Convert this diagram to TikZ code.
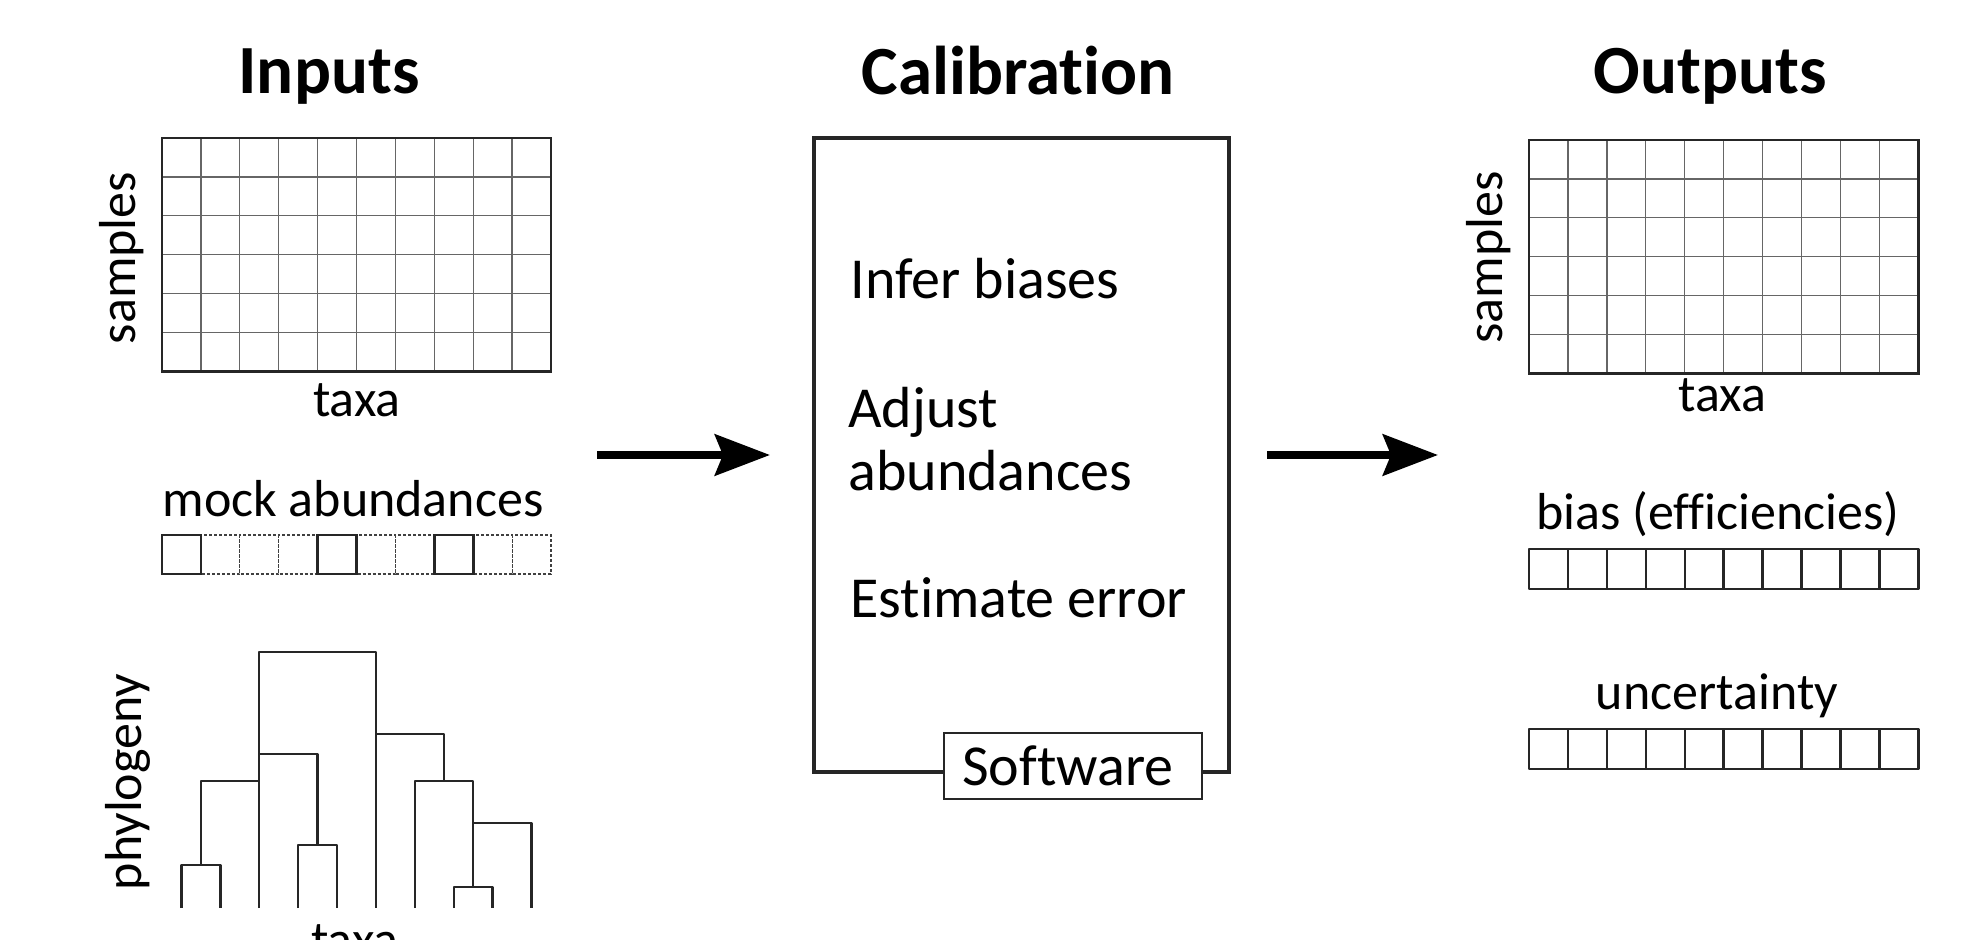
\documentclass[tikz,border=0pt]{standalone}
\usepackage{fontspec}
\setmainfont{Carlito}[Ligatures=NoCommon]
\usetikzlibrary{arrows.meta}
\begin{document}
\begin{tikzpicture}[x=0.5pt,y=-0.5pt,
  title/.style={font=\fontsize{34.5}{40}\selectfont\bfseries, inner sep=0pt, anchor=base},
  lab/.style={font=\fontsize{26}{30}\selectfont, inner sep=0pt, anchor=base},
  body/.style={font=\fontsize{29}{34}\selectfont, inner sep=0pt, anchor=base west},
  outer/.style={line width=1.35pt, draw=black!85},
  inner/.style={line width=0.65pt, draw=black!60},
  cell/.style={line width=1.2pt, draw=black!85, line join=round},
  mockon/.style={line width=1.3pt, draw=black!85},
  mockoff/.style={line width=0.6pt, draw=black!75, dash pattern=on 1.5pt off 1pt},
  branch/.style={line width=1.2pt, draw=black!85, line join=round},
  mainbox/.style={line width=1.7pt, draw=black!85},
  flow/.style={line width=4pt, -{Stealth[length=27.5pt, width=20.5pt, inset=4pt]}}
]
\useasboundingbox (0,0) rectangle (1982,940);

% ---------- column titles ----------
\node[title] (tin)  at (329,93.3) {Inputs};
\node[title] (tcal) at (1018,95) {Calibration};
\node[title] (tout) at (1710,93.5) {Outputs};

% ---------- inputs: sample x taxa table ----------
\foreach \i in {1,...,9}
  \draw[inner] ({162+38.9*\i},138) -- ({162+38.9*\i},371.5);
\foreach \j in {1,...,5}
  \draw[inner] (162,{138+38.92*\j}) -- (551,{138+38.92*\j});
\draw[outer] (162,138) rectangle (551,371.5);
\node[lab, rotate=90] (insamp) at (135,258) {samples};
\node[lab] (intaxa) at (357,416.5) {taxa};

% ---------- inputs: mock abundances ----------
\node[lab] (mocklab) at (353,517) {mock abundances};
\foreach \i in {1,2,3,5,6,8,9}
  \draw[mockoff] ({162+38.9*\i},535) rectangle ({162+38.9*(\i+1)},574);
\foreach \i in {0,4,7}
  \draw[mockon] ({162+38.9*\i},535) rectangle ({162+38.9*(\i+1)},574);

% ---------- inputs: phylogeny ----------
\draw[branch] (181.45,908) -- (181.45,865) -- (220.35,865) -- (220.35,908);
\draw[branch] (200.9,865) -- (200.9,781) -- (259.25,781);
\draw[branch] (259.25,908) -- (259.25,652.3) -- (375.95,652.3) -- (375.95,908);
\draw[branch] (259.25,754) -- (317.6,754) -- (317.6,845);
\draw[branch] (298.15,908) -- (298.15,845) -- (337.05,845) -- (337.05,908);
\draw[branch] (375.95,734) -- (444,734) -- (444,781);
\draw[branch] (414.85,908) -- (414.85,781) -- (473.2,781) -- (473.2,886.7);
\draw[branch] (453.75,908) -- (453.75,886.7) -- (492.65,886.7) -- (492.65,908);
\draw[branch] (473.2,822.7) -- (531.55,822.7) -- (531.55,908);
\node[lab, rotate=90] (phylab) at (141,782) {phylogeny};
\node[lab] (phytaxa) at (355,957) {taxa};

% ---------- calibration ----------
\draw[mainbox] (814,138) rectangle (1229,771.8);
\node[body] (s1) at (850,298.6) {Infer biases};
\node[body] (s2) at (848,428) {Adjust};
\node[body] (s3) at (848,490.5) {abundances};
\node[body] (s4) at (850,617.8) {Estimate error};
\draw[line width=1pt, draw=black!85, fill=white] (944,733) rectangle (1202,799);
\node[body, anchor=base] (soft) at (1068,785) {Software};

% ---------- flow arrows ----------
\coordinate (a1s) at (597,455);
\coordinate (a1e) at (770,455);
\coordinate (a2s) at (1267,455);
\coordinate (a2e) at (1438,455);
\draw[flow] (a1s) -- (a1e);
\draw[flow] (a2s) -- (a2e);

% ---------- outputs: corrected table ----------
\foreach \i in {1,...,9}
  \draw[inner] ({1529+38.93*\i},140) -- ({1529+38.93*\i},373.3);
\foreach \j in {1,...,5}
  \draw[inner] (1529,{140+38.88*\j}) -- (1918.3,{140+38.88*\j});
\draw[outer] (1529,140) rectangle (1918.3,373.3);
\node[lab, rotate=90] (outsamp) at (1502,257.5) {samples};
\node[lab] (outtaxa) at (1722.5,411.7) {taxa};

% ---------- outputs: bias and uncertainty vectors ----------
\node[lab] (biaslab) at (1718,529.5) {bias (efficiencies)};
\foreach \i in {0,...,9}
  \draw[cell] ({1529+38.93*\i},549) rectangle ({1529+38.93*(\i+1)},589);
\node[lab] (unclab) at (1717,710) {uncertainty};
\foreach \i in {0,...,9}
  \draw[cell] ({1529+38.93*\i},729) rectangle ({1529+38.93*(\i+1)},769);
\end{tikzpicture}
\end{document}
